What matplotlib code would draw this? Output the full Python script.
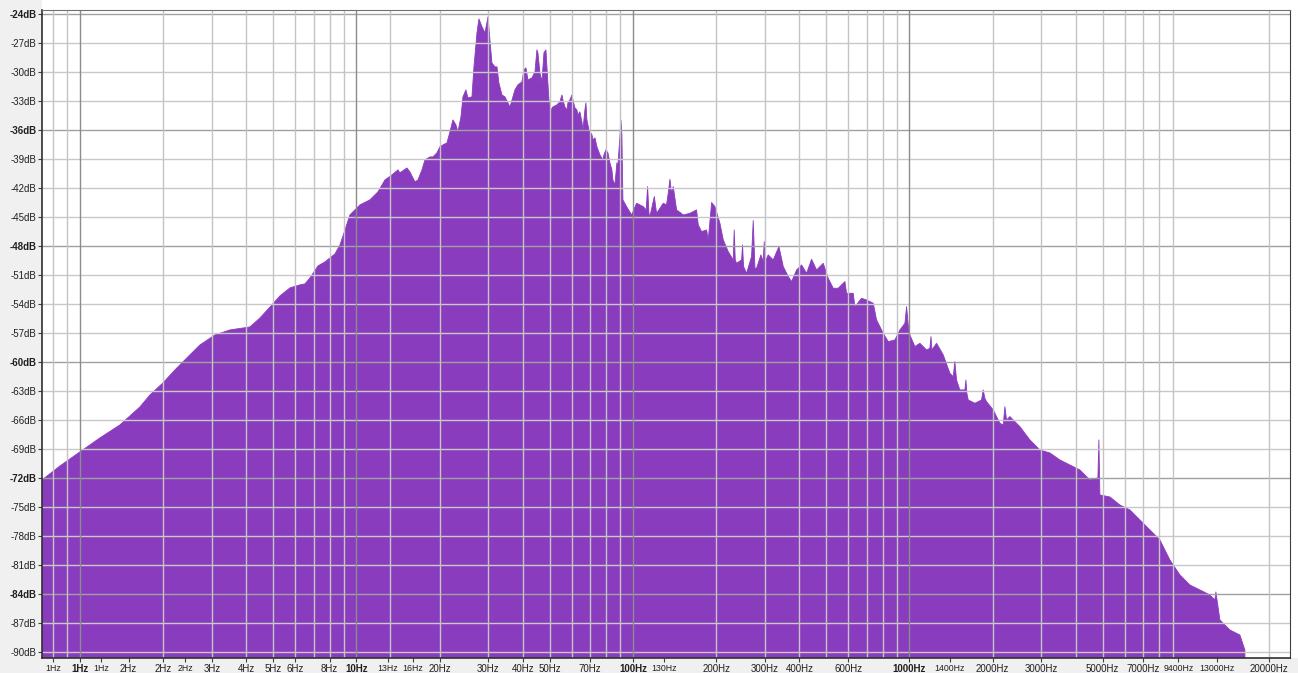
import matplotlib
matplotlib.use("Agg")
import matplotlib.pyplot as plt
from matplotlib.patches import Rectangle

plt.rcParams['font.family'] = ['Liberation Sans', 'DejaVu Sans']

# ---- spectrum data: (frequency Hz, level dB) ----
spectrum = [
    (0.729, -72.19), (0.847, -70.74), (1.0, -69.29), (1.18, -67.85), (1.395, -66.50),
    (1.648, -64.64), (1.791, -63.40), (1.996, -62.16), (2.206, -60.81), (2.499, -59.26),
    (2.716, -58.23), (3.077, -57.20), (3.487, -56.68), (4.12, -56.37), (4.48, -55.44),
    (4.87, -54.30), (5.29, -53.16), (5.75, -52.33), (6.25, -52.02), (6.51, -51.92),
    (6.79, -51.30), (7.26, -50.06), (7.69, -49.65), (8.36, -48.82), (8.72, -47.89),
    (9.09, -46.34), (9.47, -44.79), (10.30, -43.75), (11.19, -43.23), (11.96, -42.41),
    (12.68, -41.17), (13.44, -40.65), (14.13, -40.13),
    (14.36, -40.44), (15.23, -39.93), (15.61, -40.34), (16.28, -41.37), (16.69, -41.17),
    (17.26, -40.13), (17.69, -39.10), (18.45, -38.79), (18.91, -38.79), (19.55, -38.37),
    (20.04, -37.75), (20.55, -37.55), (21.25, -37.34), (21.79, -36.20), (22.34, -34.96),
    (22.90, -35.48), (23.29, -36.20), (23.88, -34.65), (24.28, -32.58), (24.89, -31.86),
    (25.31, -32.69), (26.17, -32.58), (26.61, -29.48), (27.29, -25.96), (27.74, -24.52),
    (28.45, -25.34), (29.17, -25.96), (29.91, -24.31), (30.40, -26.69), (30.91, -29.07),
    (31.70, -29.48), (32.23, -29.48), (32.76, -31.14), (33.60, -32.38), (34.44, -32.58),
    (35.32, -33.20), (35.93, -33.62), (36.81, -32.58), (37.43, -31.86), (38.38, -31.34),
    (39.68, -31.03), (40.35, -29.79), (41.03, -29.58), (41.72, -30.83), (43.13, -30.62),
    (44.22, -30.00), (44.96, -27.72), (45.34, -28.03), (46.10, -30.10), (46.88, -31.03),
    (47.66, -28.03), (48.46, -27.72), (48.87, -29.48), (49.69, -32.89), (50.52, -33.93),
    (51.36, -33.62), (53.10, -33.41), (54.45, -33.10), (55.36, -32.38), (55.82, -32.89),
    (56.76, -33.62), (57.71, -33.93), (58.20, -33.20), (59.18, -32.89), (60.18, -32.38),
    (60.68, -32.89), (61.70, -33.72), (62.72, -33.93), (63.25, -34.44), (64.31, -34.13),
    (65.40, -35.17), (65.94, -36.00), (67.05, -33.93), (67.61, -33.20), (68.17, -34.96),
    (69.35, -36.00), (71.10, -36.51), (71.69, -37.03), (72.90, -36.82), (74.12, -37.75),
    (75.98, -38.58), (77.90, -39.10), (78.55, -38.58), (79.86, -38.06), (81.20, -38.37),
    (82.57, -39.41), (83.95, -40.13), (84.65, -41.17), (86.07, -41.68), (87.51, -39.41),
    (88.25, -39.62), (89.73, -36.72), (90.48, -34.96), (91.23, -36.51), (92.00, -43.23),
    (94.87, -43.93), (98.97, -44.79), (103.1, -43.58), (109.0, -43.93),
    (111.7, -44.27), (113.0, -41.86), (114.3, -44.62), (115.2, -44.96), (119.5, -42.89),
    (121.8, -44.62), (128.8, -43.58), (132.3, -43.75), (134.2, -42.55), (136.1, -41.10),
    (138.0, -42.55), (139.9, -41.86), (143.9, -44.27), (152.1, -44.79), (160.8, -44.62),
    (169.9, -44.27), (172.3, -45.82), (177.2, -46.51), (184.7, -46.34), (187.3, -47.37),
    (192.6, -43.51), (198.0, -43.93), (206.4, -45.65), (212.2, -47.37), (221.2, -48.58),
    (230.6, -49.44), (232.5, -46.34), (234.5, -49.44), (237.1, -49.79), (247.2, -49.44),
    (249.2, -47.89), (251.3, -50.13), (257.7, -50.82), (268.6, -49.10), (272.4, -45.37),
    (276.3, -50.30), (280.1, -50.30), (290.4, -48.92), (296.0, -49.61), (298.5, -47.55),
    (301.0, -49.61), (308.6, -48.92), (321.7, -49.44), (337.4, -48.06), (349.8, -50.13),
    (364.6, -51.16), (374.9, -51.68), (390.8, -50.48), (407.4, -49.96), (424.8, -50.82),
    (442.8, -49.37), (461.6, -50.48), (488.0, -49.79), (508.7, -51.34), (530.3, -52.37),
    (552.8, -52.37), (584.4, -51.68), (592.6, -52.89), (626.4, -52.89), (635.2, -54.27),
    (671.4, -53.41), (700.0, -53.58), (740.0, -53.92), (760.9, -55.65), (804.3, -57.03),
    (838.5, -57.89), (886.4, -57.71), (924.1, -56.68), (963.4, -55.99), (976.8, -54.27),
    (990.3, -56.16), (1004, -57.20), (1047, -58.40), (1091, -58.06), (1154, -58.75),
    (1186, -58.58), (1197, -57.37), (1206, -58.75), (1254, -58.06), (1326, -59.27),
    (1401, -61.16), (1441, -61.51), (1460, -59.95), (1481, -61.85), (1522, -62.88),
    (1588, -62.88), (1601, -61.85), (1614, -63.23), (1632, -63.92), (1726, -64.26),
    (1824, -63.92), (1849, -62.88), (1875, -63.75), (1901, -64.09), (2010, -64.95),
    (2125, -66.33), (2185, -66.50), (2215, -64.61), (2246, -65.99), (2309, -65.64),
    (2441, -66.33), (2510, -66.68),
    (2728, -68.05), (2965, -69.09), (3222, -69.40), (3502, -70.12), (3806, -70.64),
    (4137, -71.16), (4496, -72.19), (4806, -71.98), (4846, -68.05), (4887, -73.74),
    (5311, -73.95), (5772, -74.78), (6273, -75.29), (6818, -76.33), (7410, -77.36),
    (8054, -78.39), (8753, -80.46), (9513, -82.01), (10340, -83.05), (11237, -83.56),
    (12213, -84.08), (12732, -84.60), (12840, -83.77), (13274, -86.67), (14426, -87.70),
    (15679, -88.22), (16346, -89.77), (16400, -95.0),
]
freq_hz = [p[0] for p in spectrum]
level_db = [p[1] for p in spectrum]

# ---- axis ticks / labels ----
x_tick_hz = [0.8, 1.0, 1.19, 1.5, 2.0, 2.4, 3, 4, 5, 6, 8, 10, 13, 16, 20, 30, 40, 50, 70,
             100, 130, 200, 300, 400, 600, 1000, 1400, 2000, 3000, 5000, 7000, 9400, 13000, 20000]
x_tick_text = ['1Hz', '1Hz', '1Hz', '2Hz', '2Hz', '2Hz', '3Hz', '4Hz', '5Hz', '6Hz', '8Hz', '10Hz',
               '13Hz', '16Hz', '20Hz', '30Hz', '40Hz', '50Hz', '70Hz', '100Hz', '130Hz', '200Hz',
               '300Hz', '400Hz', '600Hz', '1000Hz', '1400Hz', '2000Hz', '3000Hz', '5000Hz',
               '7000Hz', '9400Hz', '13000Hz', '20000Hz']
x_tick_kind = ['s', 'b', 's', 'n', 'n', 's', 'n', 'n', 'n', 'n', 'n', 'b',
               's', 's', 'n', 'n', 'n', 'n', 'n', 'b', 's', 'n',
               'n', 'n', 'n', 'b', 's', 'n', 'n', 'n', 'n', 's', 's', 'n']
y_ticks_db = list(range(-90, -23, 3))
major_grid_hz = [1, 10, 100, 1000]
minor_grid_hz = [0.8, 0.9, 2, 3, 4, 5, 6, 7, 8, 9, 13.2, 20, 30, 40, 50, 60, 70, 80, 90,
                 200, 300, 400, 500, 600, 700, 800, 900,
                 2000, 3000, 4000, 5000, 6000, 7000, 8000, 9000, 20000]

W, H = 1298, 673
fig = plt.figure(figsize=(W / 100, H / 100), dpi=100, facecolor='white')
# ruler backgrounds (behind the axes)
fig.patches.append(Rectangle((0, 0), 42 / W, 1, transform=fig.transFigure,
                             facecolor='#f0f0f0', edgecolor='none', zorder=-5))
fig.patches.append(Rectangle((0, 0), 1, 15 / H, transform=fig.transFigure,
                             facecolor='#f0f0f0', edgecolor='none', zorder=-5))

ax = fig.add_axes([42 / W, 15 / H, (1290 - 42) / W, (658 - 10) / H])
ax.set_facecolor('white')
ax.set_xscale('log')
ax.set_xlim(0.729, 23800)
ax.set_ylim(-90.6, -23.6)

ax.fill_between(freq_hz, level_db, -100, color='#8a3cbe', linewidth=0.6,
                edgecolor='#8a3cbe', zorder=1)

# grid
for v in y_ticks_db:
    major = (v % 12 == 0)
    ax.axhline(v, color='#a0a0a0' if major else '#c8c8c8', lw=1.0, zorder=2)
for f in minor_grid_hz:
    ax.axvline(f, color='#c4c4c4', lw=1.0, zorder=2)
for f in major_grid_hz:
    ax.axvline(f, color='#8c8c8c', lw=1.0, zorder=2)

# y ticks
ax.set_yticks(y_ticks_db)
ax.set_yticklabels([f'{v}dB' for v in y_ticks_db])
for lab, v in zip(ax.get_yticklabels(), y_ticks_db):
    lab.set_fontsize(7)
    lab.set_color('#202020')
    if v % 12 == 0:
        lab.set_fontweight('bold')
ax.tick_params(axis='y', length=3, width=0.8, pad=1, color='#404040')

# x ticks
ax.xaxis.set_minor_locator(matplotlib.ticker.NullLocator())
ax.set_xticks(x_tick_hz)
ax.set_xticklabels(x_tick_text)
for lab, k in zip(ax.get_xticklabels(), x_tick_kind):
    lab.set_color('#202020')
    if k == 'b':
        lab.set_fontsize(7)
        lab.set_fontweight('bold')
    elif k == 's':
        lab.set_fontsize(6.3)
    else:
        lab.set_fontsize(7)
ax.tick_params(axis='x', length=3, width=0.8, pad=1.5, color='#404040')

for side in ['left', 'bottom']:
    ax.spines[side].set_color('#303030')
    ax.spines[side].set_linewidth(1.2)
ax.spines['top'].set_color('#707070')
ax.spines['right'].set_color('#404040')
for s in ax.spines.values():
    s.set_zorder(5)

fig.savefig('out.png', dpi=100, facecolor='white')
